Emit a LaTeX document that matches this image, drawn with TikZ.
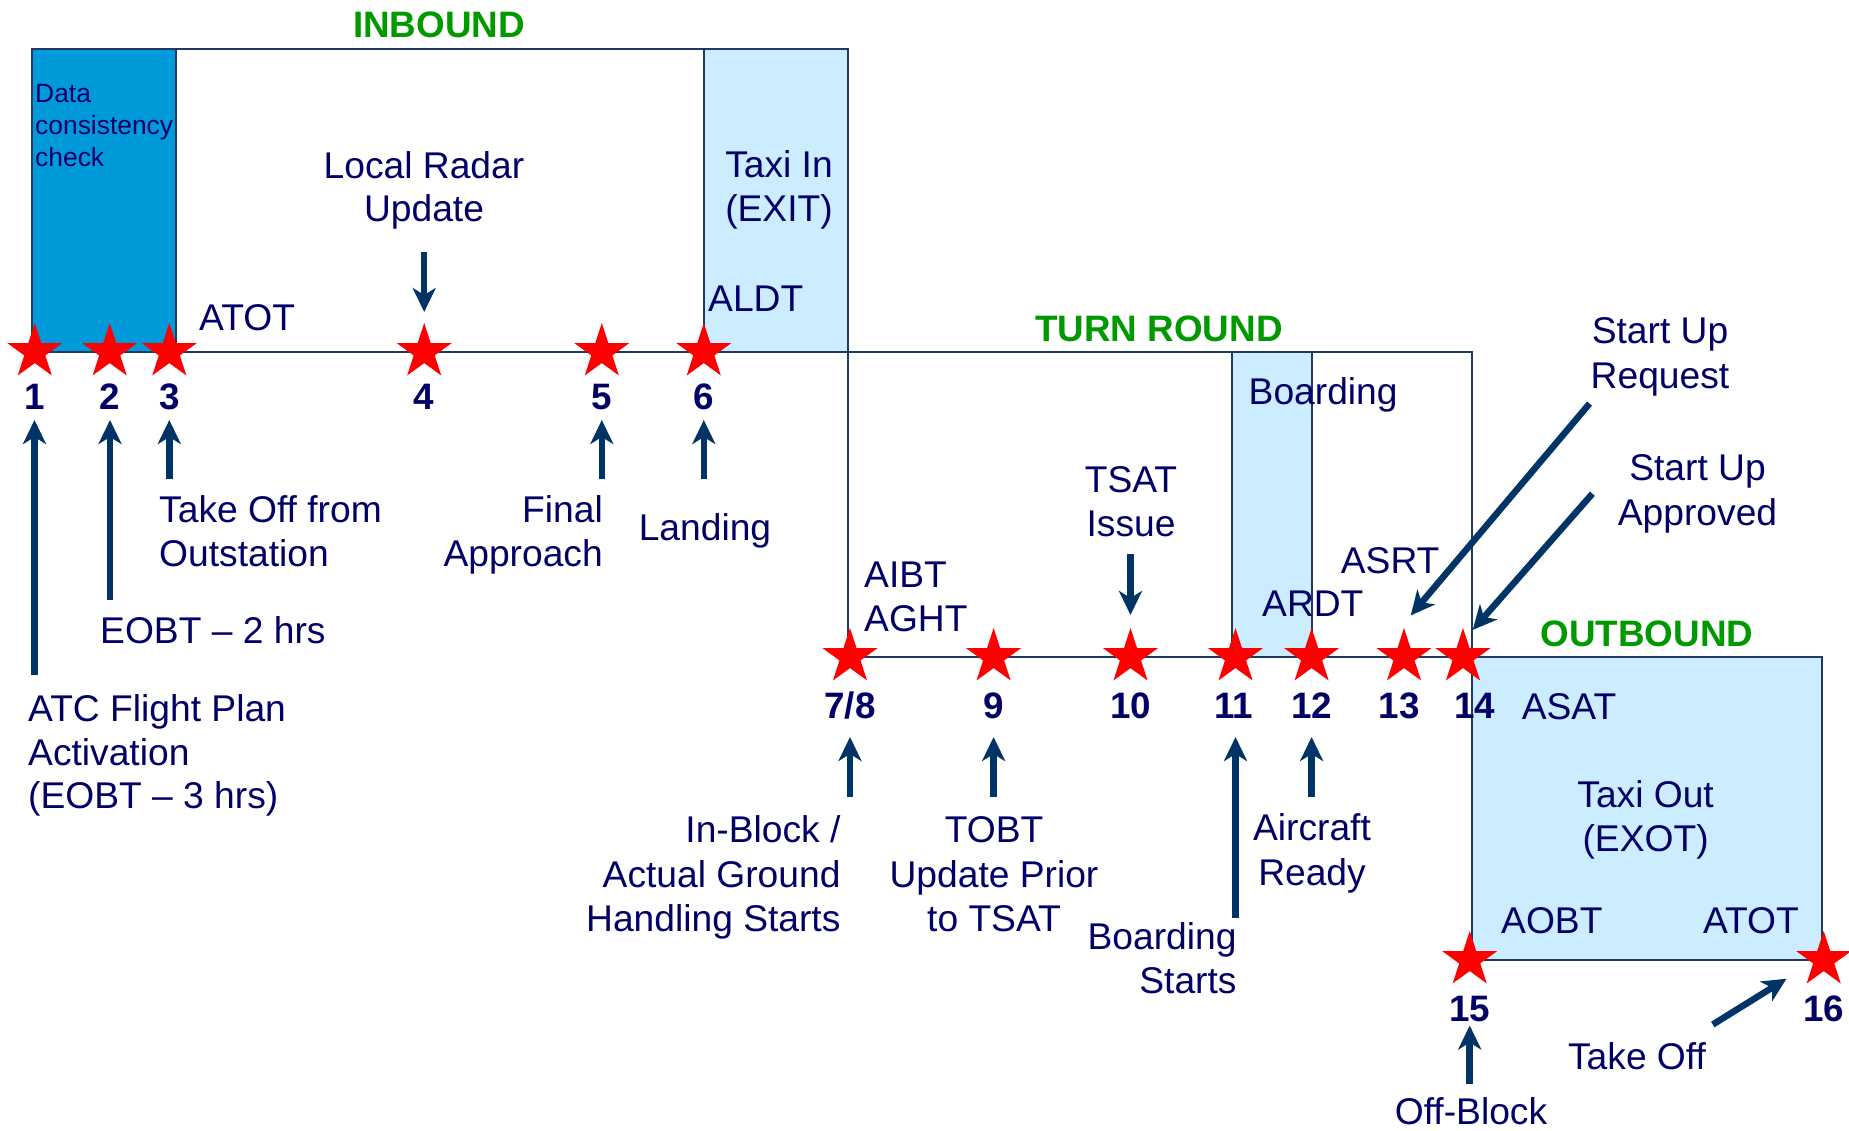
\documentclass[tikz,border=0pt]{standalone}
\usepackage{fontspec}
\setmainfont{Liberation Sans}
\usetikzlibrary{shapes.geometric,arrows.meta}
\definecolor{txt}{RGB}{0,0,102}
\definecolor{arr}{RGB}{0,51,102}
\definecolor{edge}{RGB}{31,56,100}
\definecolor{darkfill}{RGB}{0,153,218}
\definecolor{lightfill}{RGB}{204,236,255}
\definecolor{grn}{RGB}{0,153,0}
\tikzset{
 lbl/.style={text=txt, font=\fontsize{37.2}{44}\selectfont, inner sep=0pt},
 lw/.style={lbl, anchor=base west},
 le/.style={lbl, anchor=base east},
 lc/.style={lbl, anchor=base},
 num/.style={text=txt, font=\fontsize{36.8}{44}\selectfont\bfseries, inner sep=0pt, anchor=base},
 phase/.style={text=grn, font=\fontsize{36.8}{44}\selectfont\bfseries, inner sep=0pt, anchor=base},
 smalltxt/.style={text=txt, font=\fontsize{26.4}{31}\selectfont, inner sep=0pt, anchor=base west},
 evstar/.style={star, star points=5, star point ratio=2.618, fill=red, draw=none, minimum size=58pt, inner sep=0pt},
 boxline/.style={draw=edge, line width=2.5pt},
 pointer/.style={draw=arr, line width=6.5pt, -{Stealth[length=24pt,width=23pt,inset=7pt]}},
}
\begin{document}
\begin{tikzpicture}[x=1pt,y=-1pt]
\useasboundingbox (0,0) rectangle (1849,1130);
% fills
\fill[darkfill] (32,49) rectangle (176,352);
\fill[lightfill] (704,49) rectangle (848,352);
\fill[lightfill] (1232,352) rectangle (1312,657);
\fill[lightfill] (1472,657) rectangle (1822,960);
% frames
\draw[boxline] (32,49) rectangle (848,352);
\draw[boxline, line width=1.5pt] (176,49) -- (176,352);
\draw[boxline, line width=1.5pt] (704,49) -- (704,352);
\draw[boxline] (848,352) rectangle (1472,657);
\draw[boxline, line width=1.5pt] (1232,352) -- (1232,657);
\draw[boxline, line width=1.5pt] (1312,352) -- (1312,657);
\draw[boxline] (1472,657) rectangle (1822,960);

% phase titles
\node[phase] (inb) at (439,37.5) {INBOUND};
\node[phase] (trn) at (1159,341) {TURN ROUND};
\node[phase] (outb) at (1647,646.5) {OUTBOUND};

% stars
\node[evstar] (s1) at (34.8,352) {};
\node[evstar] (s2) at (109.7,352) {};
\node[evstar] (s3) at (169.3,352) {};
\node[evstar] (s4) at (424.2,352) {};
\node[evstar] (s5) at (601.8,352) {};
\node[evstar] (s6) at (703.8,352) {};
\node[evstar] (s78) at (850,657) {};
\node[evstar] (s9) at (993.6,657) {};
\node[evstar] (s10) at (1130.5,657) {};
\node[evstar] (s11) at (1235.5,657) {};
\node[evstar] (s12) at (1311.6,657) {};
\node[evstar] (s13) at (1404,657) {};
\node[evstar] (s14) at (1463,657) {};
\node[evstar] (s15) at (1469.7,960) {};
\node[evstar] (s16) at (1823.7,960) {};

% numbers
\node[num] (n1) at (34.8,409.5) {1};
\node[num] (n2) at (109.7,409.5) {2};
\node[num] (n3) at (169.3,409.5) {3};
\node[num] (n4) at (424.2,409.5) {4};
\node[num] (n5) at (601.8,409.5) {5};
\node[num] (n6) at (703.8,409.5) {6};
\node[num] (n78) at (850,718) {7/8};
\node[num] (n9) at (993.6,718) {9};
\node[num] (n10) at (1130.5,718) {10};
\node[num] (n11) at (1233.7,718) {11};
\node[num] (n12) at (1311.6,718) {12};
\node[num] (n13) at (1399,718) {13};
\node[num] (n14) at (1474.5,718) {14};
\node[num] (n15) at (1469.7,1021.5) {15};
\node[num] (n16) at (1823.7,1021.5) {16};

% inbound texts
\node[smalltxt] (dc1) at (35,102.5) {Data};
\node[smalltxt] (dc2) at (35,134.5) {consistency};
\node[smalltxt] (dc3) at (35,166) {check};
\node[lc] (lr1) at (424,178) {Local Radar};
\node[lc] (lr2) at (424,221.5) {Update};
\node[lw] (atot1) at (199,330) {ATOT};
\node[lc] (ti1) at (779,177) {Taxi In};
\node[lc] (ti2) at (779,221.5) {(EXIT)};
\node[lw] (aldt) at (708,311.5) {ALDT};
\node[lw] (tof1) at (159,522.5) {Take Off from};
\node[lw] (tof2) at (159,566.5) {Outstation};
\node[le] (fa1) at (603,522.5) {Final};
\node[le] (fa2) at (603,566.5) {Approach};
\node[lc] (land) at (705,540.5) {Landing};
\node[lw] (eobt2) at (100,643.5) {EOBT – 2 hrs};
\node[lw] (atc1) at (28,721.5) {ATC Flight Plan};
\node[lw] (atc2) at (28,765) {Activation};
\node[lw] (atc3) at (28,808.5) {(EOBT – 3 hrs)};

% turn round texts
\node[lw] (brd) at (1248.5,404.5) {Boarding};
\node[lc] (tsat1) at (1131,492.5) {TSAT};
\node[lc] (tsat2) at (1131,536.5) {Issue};
\node[lw] (aibt) at (864,587) {AIBT};
\node[lw] (aght) at (864,631.5) {AGHT};
\node[lw] (asrt) at (1340.7,573) {ASRT};
\node[lw] (ardt) at (1262,616) {ARDT};
\node[lc] (sur1) at (1660,343.5) {Start Up};
\node[lc] (sur2) at (1660,388.5) {Request};
\node[lc] (sua1) at (1697.5,480.5) {Start Up};
\node[lc] (sua2) at (1697.5,525.5) {Approved};
\node[lw] (asat) at (1521.6,719.5) {ASAT};
\node[le] (ib1) at (840.7,842) {In-Block /};
\node[le] (ib2) at (840.7,887) {Actual Ground};
\node[le] (ib3) at (840.7,931) {Handling Starts};
\node[lc] (tobt1) at (994,842) {TOBT};
\node[lc] (tobt2) at (994,887) {Update Prior};
\node[lc] (tobt3) at (994,931) {to TSAT};
\node[le] (bs1) at (1236.7,949) {Boarding};
\node[le] (bs2) at (1236.7,993.5) {Starts};
\node[lc] (ar1) at (1312,840.5) {Aircraft};
\node[lc] (ar2) at (1312,885.5) {Ready};

% outbound texts
\node[lc] (to1) at (1645.6,807) {Taxi Out};
\node[lc] (to2) at (1645.6,851) {(EXOT)};
\node[lw] (aobt) at (1501,933) {AOBT};
\node[lw] (atot2) at (1702.8,933) {ATOT};
\node[lc] (offb) at (1471,1124) {Off-Block};
\node[lc] (tkoff) at (1637,1069) {Take Off};

% arrow end points
\coordinate (t1) at (34.5,675);   \coordinate (h1) at (34.5,420);
\coordinate (t2) at (110,600);    \coordinate (h2) at (110,420);
\coordinate (t3) at (169.3,479);  \coordinate (h3) at (169.3,420);
\coordinate (t4) at (424.2,252);  \coordinate (h4) at (424.2,312);
\coordinate (t5) at (601.8,479);  \coordinate (h5) at (601.8,420);
\coordinate (t6) at (703.8,479);  \coordinate (h6) at (703.8,420);
\coordinate (t78) at (850,796.7); \coordinate (h78) at (850,737);
\coordinate (t9) at (993.6,796.7);\coordinate (h9) at (993.6,737);
\coordinate (t10) at (1130.5,554);\coordinate (h10) at (1130.5,615);
\coordinate (t11) at (1235.5,918);\coordinate (h11) at (1235.5,737);
\coordinate (t12) at (1311.6,796.7);\coordinate (h12) at (1311.6,737);
\coordinate (tsr) at (1589.5,403.6);\coordinate (hsr) at (1410.7,615.4);
\coordinate (tsa) at (1592.4,493.7);\coordinate (hsa) at (1472.7,629.9);
\coordinate (t15) at (1469.7,1084);\coordinate (h15) at (1469.7,1025.5);
\coordinate (tto) at (1712.8,1024.5);\coordinate (hto) at (1786.5,978.7);

\draw[pointer] (t1) -- (h1);
\draw[pointer] (t2) -- (h2);
\draw[pointer] (t3) -- (h3);
\draw[pointer] (t4) -- (h4);
\draw[pointer] (t5) -- (h5);
\draw[pointer] (t6) -- (h6);
\draw[pointer] (t78) -- (h78);
\draw[pointer] (t9) -- (h9);
\draw[pointer] (t10) -- (h10);
\draw[pointer] (t11) -- (h11);
\draw[pointer] (t12) -- (h12);
\draw[pointer] (tsr) -- (hsr);
\draw[pointer] (tsa) -- (hsa);
\draw[pointer] (t15) -- (h15);
\draw[pointer] (tto) -- (hto);
\end{tikzpicture}
\end{document}
